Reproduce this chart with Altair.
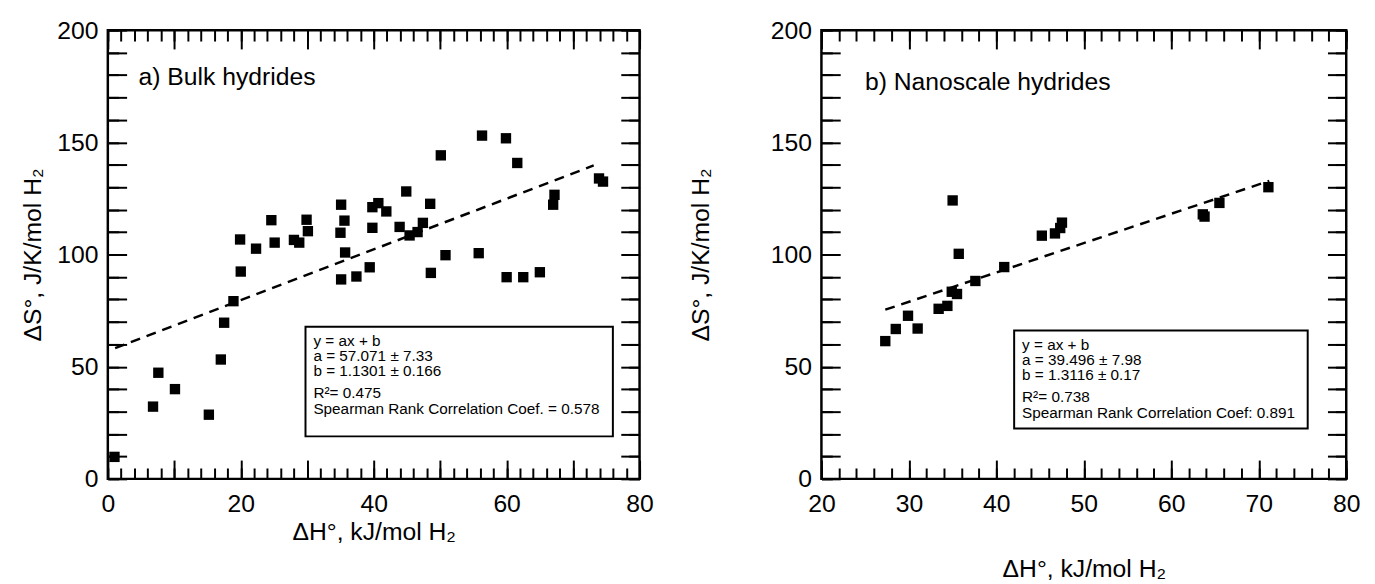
import altair as alt
import pandas as pd

FONT = "Liberation Sans"

# ---------------- data ----------------
# a) Bulk hydrides
bulk_dH = [1.0, 6.8, 7.6, 10.1, 15.2, 17.0, 17.5, 18.9, 19.9, 20.0, 22.3, 24.6, 25.1,
           28.0, 28.8, 29.9, 30.1, 35.1, 35.6, 35.0, 35.7, 35.1, 37.4, 39.4, 39.8, 39.8,
           40.7, 41.9, 43.9, 44.9, 45.4, 46.6, 47.4, 48.5, 48.6, 50.1, 50.8, 55.8, 56.3,
           59.9, 60.0, 61.6, 62.5, 65.0, 67.0, 67.2, 73.9, 74.5]
bulk_dS = [9.8, 32.2, 47.3, 40.0, 28.6, 53.2, 69.6, 79.2, 106.7, 92.4, 102.6, 115.3, 105.3,
           106.5, 105.3, 115.5, 110.4, 122.2, 115.1, 109.7, 100.9, 88.9, 90.2, 94.3, 121.1, 111.9,
           122.9, 119.2, 112.3, 128.1, 108.5, 110.0, 114.1, 122.6, 91.8, 144.2, 99.7, 100.6, 153.0,
           151.8, 89.9, 140.8, 89.9, 92.1, 122.2, 126.6, 133.9, 132.5]
bulk_fit_x = [1.1, 73.1]
bulk_fit_y = [58.3, 139.7]
bulk_legend = ["y = ax + b", "a = 57.071 \u00b1 7.33", "b = 1.1301 \u00b1 0.166",
               "R\u00b2= 0.475", "Spearman Rank Correlation Coef. = 0.578"]
bulk_label = "a) Bulk hydrides"

# b) Nanoscale hydrides
nano_dH = [27.3, 28.5, 29.9, 31.0, 33.4, 34.4, 35.0, 34.9, 35.5, 35.7, 37.6, 40.9,
           45.2, 46.7, 47.3, 47.5, 63.6, 63.8, 65.5, 71.1]
nano_dS = [61.4, 66.8, 72.7, 67.0, 75.8, 77.1, 124.1, 83.4, 82.4, 100.3, 88.2, 94.4,
           108.4, 109.4, 111.8, 114.2, 117.9, 116.9, 123.0, 130.0]
nano_fit_x = [27.3, 71.2]
nano_fit_y = [75.4, 132.8]
nano_legend = ["y = ax + b", "a = 39.496 \u00b1 7.98", "b = 1.3116 \u00b1 0.17",
               "R\u00b2= 0.738", "Spearman Rank Correlation Coef: 0.891"]
nano_label = "b) Nanoscale hydrides"

x_title = "\u0394H\u00b0, kJ/mol H\u2082"
y_title = "\u0394S\u00b0, J/K/mol H\u2082"

y_major = list(range(0, 201, 10))
y_minor = list(range(0, 201, 10))


def ax(orient, values, size, labels=False, expr=None, title=None, title_pad=0, label_pad=13):
    kw = dict(orient=orient, values=values, tickSize=size, offset=-size, domain=False,
              grid=False, ticks=True, tickColor="black", tickWidth=2, labels=labels,
              labelFlush=False, labelOverlap=False, labelFont=FONT, labelFontSize=25,
              labelColor="black", labelPadding=label_pad, title=title)
    if expr:
        kw["labelExpr"] = expr
    if title:
        kw.update(titleFont=FONT, titleFontSize=25, titleFontWeight="normal",
                  titleColor="black", titlePadding=title_pad)
    return alt.Axis(**kw)


def panel(dH, dS, fx, fy, legend, label, xdom, xmaj, xmin, xexpr, w, h,
          lab_pos, box, ytpad, xtpad):
    df = pd.DataFrame({"x": dH, "y": dS})
    fit = pd.DataFrame({"x": fx, "y": fy})
    xs = alt.Scale(domain=xdom, nice=False, zero=False)
    ys = alt.Scale(domain=[0, 200], nice=False, zero=False)
    yexpr = "datum.value % 50 === 0 ? datum.label : ''"

    pts = alt.Chart(df).mark_square(size=110, color="black", opacity=1, filled=True).encode(
        x=alt.X("x:Q", scale=xs, axis=ax("bottom", xmaj, 19, True, xexpr, x_title, xtpad, 13)),
        y=alt.Y("y:Q", scale=ys, axis=ax("left", y_major, 19, True, yexpr, y_title, ytpad, 10)),
    )
    mn = alt.Chart(df).mark_point(opacity=0).encode(
        x=alt.X("x:Q", scale=xs, axis=ax("bottom", xmin, 11)),
        y=alt.Y("y:Q", scale=ys, axis=ax("left", y_minor, 11)),
    )
    tp = alt.Chart(df).mark_point(opacity=0).encode(
        x=alt.X("x:Q", scale=xs, axis=ax("top", xmaj, 19)),
        y=alt.Y("y:Q", scale=ys, axis=ax("right", y_major, 19)),
    )
    tpm = alt.Chart(df).mark_point(opacity=0).encode(
        x=alt.X("x:Q", scale=xs, axis=ax("top", xmin, 11)),
        y=alt.Y("y:Q", scale=ys, axis=ax("right", y_minor, 11)),
    )
    line = alt.Chart(fit).mark_line(color="black", strokeWidth=2.5, strokeDash=[10, 7]).encode(
        x=alt.X("x:Q", scale=xs, axis=None),
        y=alt.Y("y:Q", scale=ys, axis=None),
    )
    one = pd.DataFrame({"k": [0]})
    bx0, bx1, by0, by1 = box
    rect = alt.Chart(one).mark_rect(fill="white", stroke="black", strokeWidth=2).encode(
        x=alt.value(bx0), x2=alt.value(bx1), y=alt.value(by0), y2=alt.value(by1)
    )
    title_txt = alt.Chart(one).mark_text(
        text=label, align="left", baseline="alphabetic", font=FONT, fontSize=25, color="black"
    ).encode(x=alt.value(lab_pos[0]), y=alt.value(lab_pos[1]))
    offs = [0, 15, 30, 52, 68]
    texts = []
    for s, o in zip(legend, offs):
        texts.append(alt.Chart(one).mark_text(
            text=s, align="left", baseline="alphabetic", font=FONT, fontSize=15.5, color="black"
        ).encode(x=alt.value(bx0 + 8), y=alt.value(by0 + 20 + o)))
    return alt.layer(pts, mn, tp, tpm, line, rect, title_txt, *texts).resolve_axis(
        x="independent", y="independent"
    ).properties(width=w, height=h)


left = panel(bulk_dH, bulk_dS, bulk_fit_x, bulk_fit_y, bulk_legend, bulk_label,
             [0, 80], list(range(0, 81, 10)), list(range(0, 81, 2)),
             "datum.value % 20 === 0 ? datum.label : ''", 538, 454,
             (31, 56), (200, 511, 300, 411), 11, 3)
right = panel(nano_dH, nano_dS, nano_fit_x, nano_fit_y, nano_legend, nano_label,
              [20, 80], list(range(20, 81, 10)), list(range(20, 81, 2)),
              None, 531, 454,
              (44, 61), (195, 492, 304, 403), 58, 41)

chart = alt.hconcat(left, right, spacing=32).properties(
    padding={"left": 12, "top": 5, "right": 5, "bottom": 0}
).configure_view(stroke="black", strokeWidth=2.5)

chart.save("out.html", embed_options={"renderer": "svg", "actions": False})
